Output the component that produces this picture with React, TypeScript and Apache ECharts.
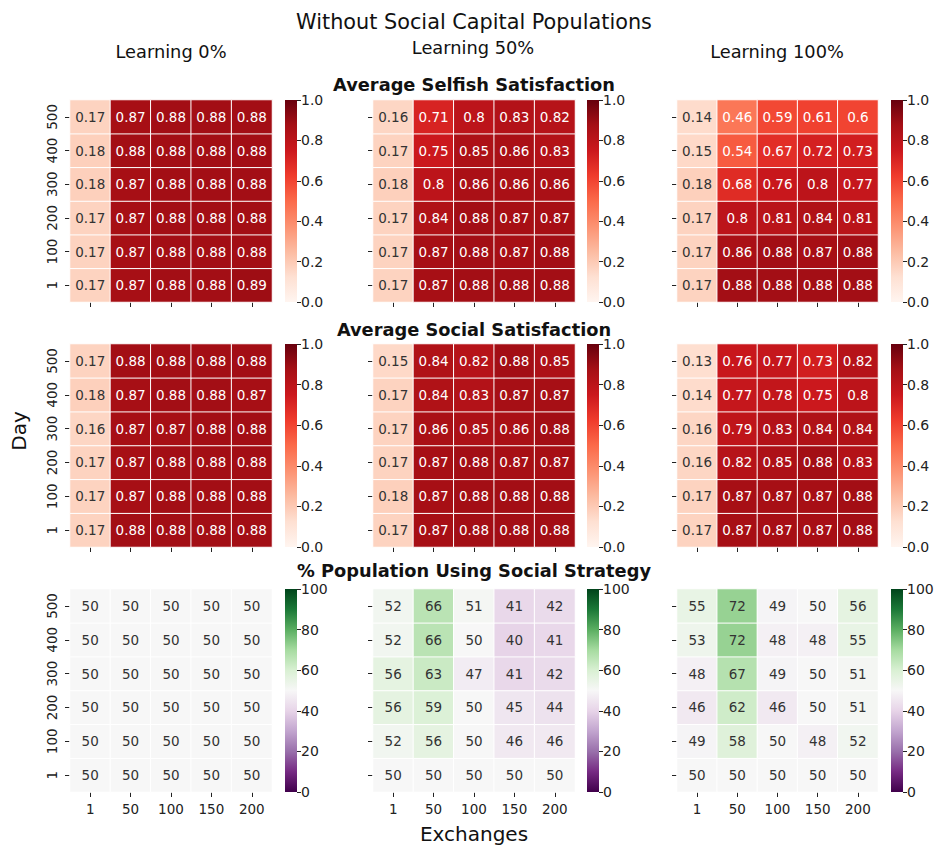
import React, { useEffect, useRef } from "react";
import * as echarts from "echarts";

const exchanges = ["1", "50", "100", "150", "200"];
const days = ["1", "100", "200", "300", "400", "500"];
const learningTitles = ["Learning 0%", "Learning 50%", "Learning 100%"];
const rowTitles = [
  "Average Selfish Satisfaction",
  "Average Social Satisfaction",
  "% Population Using Social Strategy",
];
const redsTicks = [0, 0.2, 0.4, 0.6, 0.8, 1.0];
const greenTicks = [0, 20, 40, 60, 80, 100];

// rows ordered by day: 1, 100, 200, 300, 400, 500
const selfishL0 = [
  [0.17, 0.87, 0.88, 0.88, 0.89],
  [0.17, 0.87, 0.88, 0.88, 0.88],
  [0.17, 0.87, 0.88, 0.88, 0.88],
  [0.18, 0.87, 0.88, 0.88, 0.88],
  [0.18, 0.88, 0.88, 0.88, 0.88],
  [0.17, 0.87, 0.88, 0.88, 0.88],
];
const selfishL50 = [
  [0.17, 0.87, 0.88, 0.88, 0.88],
  [0.17, 0.87, 0.88, 0.87, 0.88],
  [0.17, 0.84, 0.88, 0.87, 0.87],
  [0.18, 0.8, 0.86, 0.86, 0.86],
  [0.17, 0.75, 0.85, 0.86, 0.83],
  [0.16, 0.71, 0.8, 0.83, 0.82],
];
const selfishL100 = [
  [0.17, 0.88, 0.88, 0.88, 0.88],
  [0.17, 0.86, 0.88, 0.87, 0.88],
  [0.17, 0.8, 0.81, 0.84, 0.81],
  [0.18, 0.68, 0.76, 0.8, 0.77],
  [0.15, 0.54, 0.67, 0.72, 0.73],
  [0.14, 0.46, 0.59, 0.61, 0.6],
];
const socialL0 = [
  [0.17, 0.88, 0.88, 0.88, 0.88],
  [0.17, 0.87, 0.88, 0.88, 0.88],
  [0.17, 0.87, 0.88, 0.88, 0.88],
  [0.16, 0.87, 0.87, 0.88, 0.88],
  [0.18, 0.87, 0.88, 0.88, 0.87],
  [0.17, 0.88, 0.88, 0.88, 0.88],
];
const socialL50 = [
  [0.17, 0.87, 0.88, 0.88, 0.88],
  [0.18, 0.87, 0.88, 0.88, 0.88],
  [0.17, 0.87, 0.88, 0.87, 0.87],
  [0.17, 0.86, 0.85, 0.86, 0.88],
  [0.17, 0.84, 0.83, 0.87, 0.87],
  [0.15, 0.84, 0.82, 0.88, 0.85],
];
const socialL100 = [
  [0.17, 0.87, 0.87, 0.87, 0.88],
  [0.17, 0.87, 0.87, 0.87, 0.88],
  [0.16, 0.82, 0.85, 0.88, 0.83],
  [0.16, 0.79, 0.83, 0.84, 0.84],
  [0.14, 0.77, 0.78, 0.75, 0.8],
  [0.13, 0.76, 0.77, 0.73, 0.82],
];
const popL0 = [
  [50, 50, 50, 50, 50],
  [50, 50, 50, 50, 50],
  [50, 50, 50, 50, 50],
  [50, 50, 50, 50, 50],
  [50, 50, 50, 50, 50],
  [50, 50, 50, 50, 50],
];
const popL50 = [
  [50, 50, 50, 50, 50],
  [52, 56, 50, 46, 46],
  [56, 59, 50, 45, 44],
  [56, 63, 47, 41, 42],
  [52, 66, 50, 40, 41],
  [52, 66, 51, 41, 42],
];
const popL100 = [
  [50, 50, 50, 50, 50],
  [49, 58, 50, 48, 52],
  [46, 62, 46, 50, 51],
  [48, 67, 49, 50, 51],
  [53, 72, 48, 48, 55],
  [55, 72, 49, 50, 56],
];

const REDS = ["#fff5f0", "#fee0d2", "#fcbba1", "#fc9272", "#fb6a4a", "#ef3b2c", "#cb181d", "#a50f15", "#67000d"];
const PRGN = ["#40004b", "#762a83", "#9970ab", "#c2a5cf", "#e7d4e8", "#f7f7f7", "#d9f0d3", "#a6dba0", "#5aae61", "#1b7837", "#00441b"];

const FONT = "DejaVu Sans";
const TICK_COLOR = "#222";

const panels = [
  [selfishL0, selfishL50, selfishL100],
  [socialL0, socialL50, socialL100],
  [popL0, popL50, popL100],
];

const colX = [[70, 272], [373, 575], [677, 878]];
const rowY = [[100, 302], [344, 547], [589, 792]];
const cbX = [[285, 297], [587, 599], [891, 903]];

export default function App() {
  const ref = useRef<HTMLDivElement>(null);
  useEffect(() => {
    document.body.style.margin = "0";
    if (!ref.current) return;
    const chart = echarts.init(ref.current, null, { renderer: "svg" });
    const grid: any[] = [];
    const xAxis: any[] = [];
    const yAxis: any[] = [];
    const series: any[] = [];

    // heatmaps
    for (let r = 0; r < 3; r++) {
      for (let c = 0; c < 3; c++) {
        const idx = r * 3 + c;
        grid.push({
          left: colX[c][0],
          width: colX[c][1] - colX[c][0],
          top: rowY[r][0],
          height: rowY[r][1] - rowY[r][0],
        });
        xAxis.push({
          type: "category",
          gridIndex: idx,
          data: exchanges,
          axisLine: { show: false },
          axisTick: { show: true, alignWithLabel: true, length: 5, lineStyle: { color: TICK_COLOR } },
          axisLabel: { show: r === 2, fontFamily: FONT, fontSize: 13.5, color: TICK_COLOR, margin: 10 },
          splitLine: { show: false },
        });
        yAxis.push({
          type: "category",
          gridIndex: idx,
          data: days,
          axisLine: { show: false },
          axisTick: { show: true, alignWithLabel: true, length: 5, lineStyle: { color: TICK_COLOR } },
          axisLabel: { show: c === 0, rotate: 90, fontFamily: FONT, fontSize: 13.5, color: TICK_COLOR, margin: 11 },
          splitLine: { show: false },
        });
        const mat = panels[r][c];
        const data: any[] = [];
        mat.forEach((row, yi) => row.forEach((v, xi) => data.push([xi, yi, v])));
        const isReds = r < 2;
        series.push({
          type: "heatmap",
          xAxisIndex: idx,
          yAxisIndex: idx,
          data,
          itemStyle: { borderColor: "#ffffff", borderWidth: 1 },
          label: {
            show: true,
            fontFamily: FONT,
            fontSize: 13.5,
            formatter: (p: any) => {
              const v = p.value[2];
              const light = isReds ? v > 0.3 : v > 85 || v < 15;
              return light ? `{w|${v}}` : `{d|${v}}`;
            },
            rich: {
              w: { color: "#ffffff", fontFamily: FONT, fontSize: 13.5 },
              d: { color: "#333333", fontFamily: FONT, fontSize: 13.5 },
            },
          },
          emphasis: { disabled: true },
        });
      }
    }

    // colorbars
    for (let r = 0; r < 3; r++) {
      for (let c = 0; c < 3; c++) {
        const gi = 9 + r * 3 + c;
        const isReds = r < 2;
        const ticks = isReds ? redsTicks : greenTicks;
        const maxV = ticks[ticks.length - 1];
        const cols = isReds ? REDS : PRGN;
        grid.push({
          left: cbX[c][0],
          width: cbX[c][1] - cbX[c][0],
          top: rowY[r][0],
          height: rowY[r][1] - rowY[r][0],
        });
        xAxis.push({
          type: "category",
          gridIndex: gi,
          data: ["cb"],
          show: false,
        });
        yAxis.push({
          type: "value",
          gridIndex: gi,
          position: "right",
          min: ticks[0],
          max: maxV,
          interval: ticks[1] - ticks[0],
          axisLine: { show: false },
          axisTick: { show: true, length: 4, lineStyle: { color: TICK_COLOR } },
          axisLabel: {
            fontFamily: FONT,
            fontSize: 14,
            color: TICK_COLOR,
            margin: 4,
            formatter: (v: number) => (isReds ? v.toFixed(1) : String(v)),
          },
          splitLine: { show: false },
        });
        series.push({
          type: "bar",
          xAxisIndex: gi,
          yAxisIndex: gi,
          data: [maxV],
          barWidth: "100%",
          silent: true,
          itemStyle: {
            color: new echarts.graphic.LinearGradient(
              0, 1, 0, 0,
              cols.map((col, i) => ({ offset: i / (cols.length - 1), color: col }))
            ),
          },
        });
      }
    }

    const txt = (text: string, x: number, y: number, size: number, weight = "normal", rotation = 0) => ({
      type: "text",
      x,
      y,
      rotation,
      silent: true,
      style: {
        text,
        fill: "#111",
        font: `${weight} ${size}px "${FONT}"`,
        align: "center",
        verticalAlign: "middle",
        textAlign: "center",
        textVerticalAlign: "middle",
      },
    });

    const graphic = [
      txt("Without Social Capital Populations", 474, 22, 20.8),
      txt(learningTitles[0], 171, 51, 17.8),
      txt(learningTitles[1], 473, 47, 17.8),
      txt(learningTitles[2], 777, 51, 17.8),
      txt(rowTitles[0], 474, 84, 17.8, "bold"),
      txt(rowTitles[1], 474, 329, 17.8, "bold"),
      txt(rowTitles[2], 474, 570, 17.8, "bold"),
      txt("Day", 19, 431, 20, "normal", Math.PI / 2),
      txt("Exchanges", 474, 834, 20),
    ];

    chart.setOption({
      animation: false,
      backgroundColor: "#ffffff",
      textStyle: { fontFamily: FONT },
      grid,
      xAxis,
      yAxis,
      visualMap: [
        {
          type: "continuous",
          show: false,
          min: 0,
          max: 1,
          dimension: 2,
          seriesIndex: [0, 1, 2, 3, 4, 5],
          inRange: { color: REDS },
        },
        {
          type: "continuous",
          show: false,
          min: 0,
          max: 100,
          dimension: 2,
          seriesIndex: [6, 7, 8],
          inRange: { color: PRGN },
        },
      ],
      series,
      graphic,
    });
    return () => chart.dispose();
  }, []);
  return <div ref={ref} style={{ width: 941, height: 846 }} />;
}
